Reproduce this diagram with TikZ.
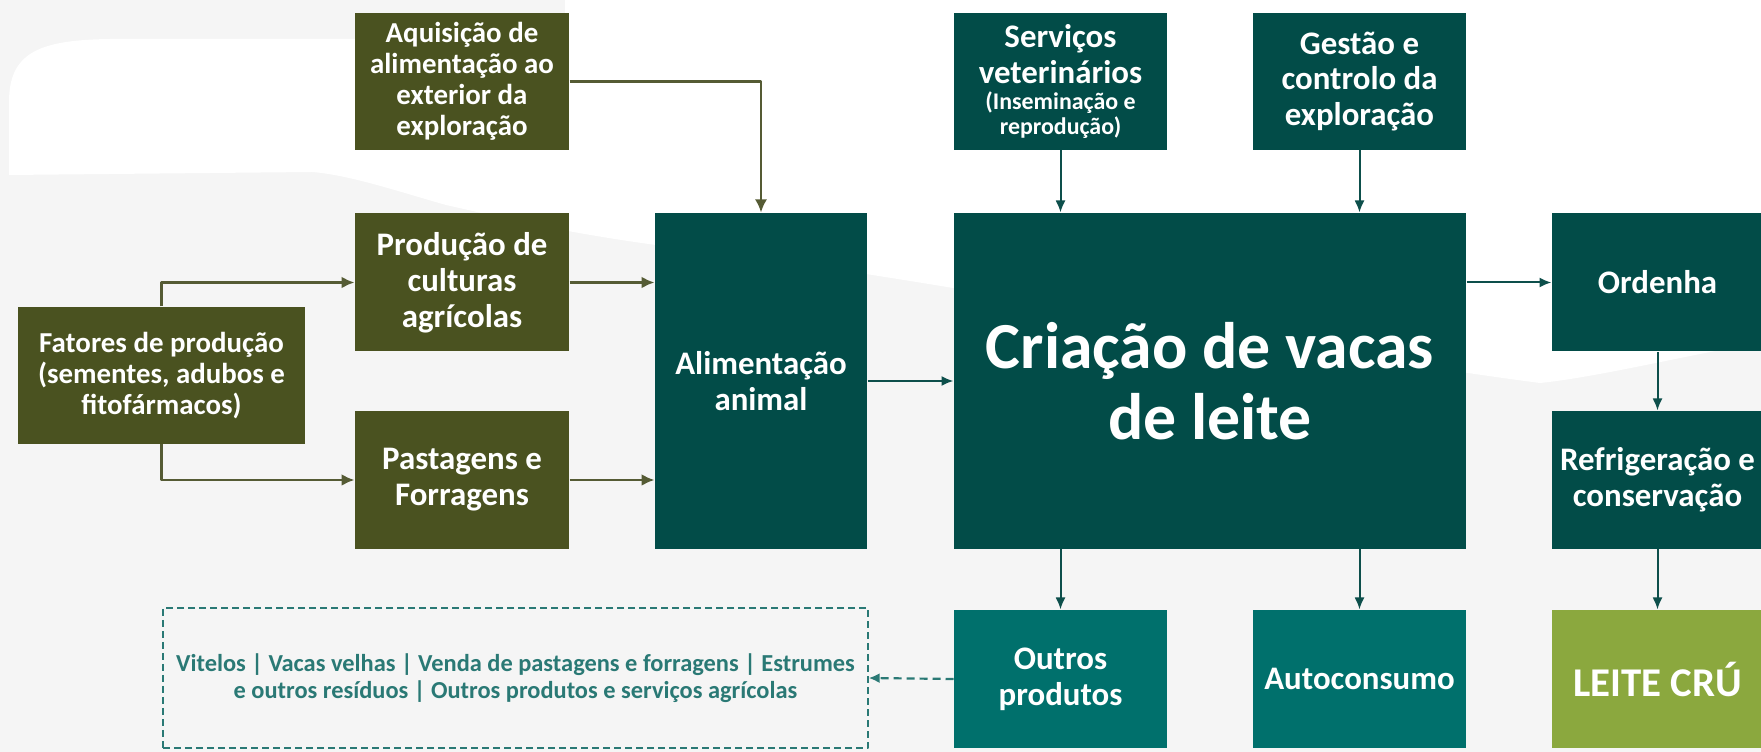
\documentclass[tikz,border=0pt]{standalone}
\usepackage{fontspec}
\setmainfont{Carlito}
\usetikzlibrary{arrows.meta}

\definecolor{olivefill}{HTML}{4A5220}
\definecolor{tealdark}{HTML}{024C48}
\definecolor{tealmid}{HTML}{00706C}
\definecolor{leitegreen}{HTML}{8BA83E}
\definecolor{oliveline}{HTML}{555B34}
\definecolor{tealline}{HTML}{0D4F4B}
\definecolor{dashteal}{HTML}{2A7975}
\definecolor{bggray}{HTML}{F5F5F5}

\begin{document}
\begin{tikzpicture}[x=1bp,y=1bp,>={Latex[length=13bp,width=12bp]},line join=bevel,
  box/.style={rectangle, inner sep=0pt, align=center, text=white,
    font=\bfseries\fontsize{33}{36}\selectfont},
  smalltext/.style={font=\bfseries\fontsize{29}{31}\selectfont},
  olivebox/.style={box, fill=olivefill, minimum width=214bp, minimum height=138bp},
  tealbox/.style={box, fill=tealdark, minimum width=213bp, minimum height=138bp},
  outbox/.style={box, fill=tealmid, minimum width=213bp, minimum height=138bp},
  oliveedge/.style={draw=oliveline, line width=2.8bp},
  tealedge/.style={draw=tealline, line width=2bp, >={Latex[length=12bp,width=10bp]}},
  dashedge/.style={draw=dashteal, line width=2.2bp, dash pattern=on 8bp off 5bp,
    >={Latex[length=11bp,width=10bp]}} ]
  \pgfsetlinewidth{1bp}
%%
  \useasboundingbox (0,0) rectangle (1761,752);
  \fill[bggray] (0,0) rectangle (1761,752);
  % Background sweep
  \fill[white] (9,577) -- (9,650) .. controls (9,700) and (40,712) .. (110,713)
    -- (565,713) -- (565,752)
    -- (1761,752) -- (1761,409) .. controls (1700,400) and (1600,375) .. (1540,369)
    .. controls (1300,400) and (900,480) .. (656,507)
    .. controls (560,520) and (500,535) .. (446,547)
    .. controls (400,560) and (350,577) .. (312,580) -- cycle;
%%
  % Node: fatores
  \node[olivebox, smalltext, minimum width=287bp, minimum height=137bp] (fatores) at (161.5,376.5)
    {Fatores de produção\\(sementes, adubos e\\fitofármacos)};
  % Node: aquisicao
  \node[olivebox, smalltext, minimum height=137bp] (aquisicao) at (462,670.5)
    {Aquisição de\\alimentação ao\\exterior da\\exploração};
  % Node: producao
  \node[olivebox] (producao) at (462,469.5) {Produção de\\culturas\\agrícolas};
  % Node: pastagens
  \node[olivebox] (pastagens) at (462,272) {Pastagens e\\Forragens};
  % Node: alimentacao
  \node[tealbox, minimum width=212bp, minimum height=336bp] (alimentacao) at (761,371)
    {Alimentação\\animal};
  % Node: criacao
  \node[tealbox, minimum width=512bp, minimum height=336bp,
    font=\bfseries\fontsize{66}{71}\selectfont] (criacao) at (1210,371)
    {Criação de vacas\\de leite};
  % Node: servicos
  \node[tealbox, minimum height=137bp] (servicos) at (1060.5,670.5)
    {Serviços\\veterinários\\[-10bp]{\fontsize{24}{25}\selectfont(Inseminação e}\\[-11bp]{\fontsize{24}{25}\selectfont reprodução)}};
  % Node: gestao
  \node[tealbox, minimum height=137bp] (gestao) at (1359.5,670.5)
    {Gestão e\\controlo da\\exploração};
  % Node: ordenha
  \node[tealbox, minimum width=211bp] (ordenha) at (1657.5,469.5) {Ordenha};
  % Node: refrigeracao
  \node[tealbox, minimum width=211bp] (refrigeracao) at (1657.5,272)
    {Refrigeração e\\conservação};
  % Node: outros
  \node[outbox] (outros) at (1060.5,73) {Outros\\produtos};
  % Node: autoconsumo
  \node[outbox] (autoconsumo) at (1359.5,73) {Autoconsumo};
  % Node: leite
  \node[box, fill=leitegreen, minimum width=211bp, minimum height=138bp,
    font=\bfseries\fontsize{41}{44}\selectfont] (leite) at (1657.5,73) {LEITE CRÚ};
  % Node: vendas
  \node[rectangle, draw=dashteal, line width=1.3bp, dash pattern=on 7bp off 4bp,
    minimum width=705bp, minimum height=140bp, inner sep=0pt, align=center, text=dashteal,
    font=\bfseries\fontsize{24.5}{26.5}\selectfont] (vendas) at (515.5,74)
    {Vitelos | Vacas velhas | Venda de pastagens e forragens | Estrumes\\e outros resíduos | Outros produtos e serviços agrícolas};
%%
  % Edge: fatores -> producao
  \draw[oliveedge, ->] (fatores.north) |- (producao.west);
  % Edge: fatores -> pastagens
  \draw[oliveedge, ->] (fatores.south) |- (pastagens.west);
  % Edge: producao -> alimentacao
  \draw[oliveedge, ->] (producao.east) -- (producao.east -| alimentacao.west);
  % Edge: pastagens -> alimentacao
  \draw[oliveedge, ->] (pastagens.east) -- (pastagens.east -| alimentacao.west);
  % Edge: aquisicao -> alimentacao
  \draw[oliveedge, line width=2.2bp, ->] (aquisicao.east) -| (alimentacao.north);
  % Edge: alimentacao -> criacao
  \draw[tealedge, ->] (alimentacao.east) -- (criacao.west);
  % Edge: servicos -> criacao
  \draw[tealedge, ->] (servicos.south) -- (servicos.south |- criacao.north);
  % Edge: gestao -> criacao
  \draw[tealedge, ->] (gestao.south) -- (gestao.south |- criacao.north);
  % Edge: criacao -> ordenha
  \draw[tealedge, ->] (criacao.east |- ordenha.west) -- (ordenha.west);
  % Edge: ordenha -> refrigeracao
  \draw[tealedge, ->] (ordenha.south) -- (refrigeracao.north);
  % Edge: refrigeracao -> leite
  \draw[tealedge, ->] (refrigeracao.south) -- (leite.north);
  % Edge: criacao -> outros
  \draw[tealedge, ->] (outros.north |- criacao.south) -- (outros.north);
  % Edge: criacao -> autoconsumo
  \draw[tealedge, ->] (autoconsumo.north |- criacao.south) -- (autoconsumo.north);
  % Edge: outros -> vendas
  \draw[dashedge, ->] (outros.west) -- (vendas.east);
%
\end{tikzpicture}
\end{document}
